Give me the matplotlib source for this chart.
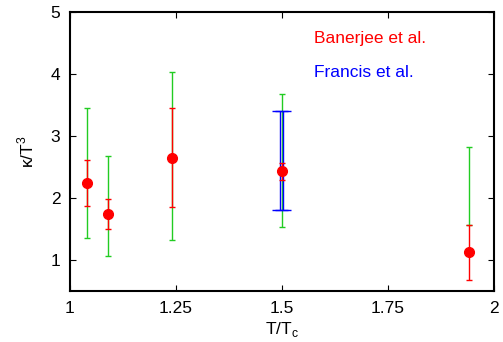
import matplotlib.pyplot as plt

plt.rcParams['font.family'] = ['Liberation Sans', 'DejaVu Sans']

# Banerjee et al. points (red) with statistical errors
ban_x = [1.04, 1.09, 1.24, 1.50, 1.94]
ban_y = [2.25, 1.735, 2.65, 2.43, 1.13]
ban_lo = [1.87, 1.50, 1.85, 2.29, 0.67]
ban_hi = [2.62, 1.98, 3.45, 2.56, 1.57]

# wider (green) error ranges
wide_lo = [1.35, 1.065, 1.32, 1.54, 1.57]
wide_hi = [3.45, 2.67, 4.03, 3.68, 2.82]

# Francis et al. (blue)
fra_x = [1.4955, 1.5035]
fra_lo = [1.80, 1.80]
fra_hi = [3.40, 3.40]

fig = plt.figure(figsize=(5.03, 3.42), dpi=100)
ax = fig.add_axes([70 / 503, 1 - 291 / 342, 424 / 503, 279 / 342])


def bar(ax, x, lo, hi, **kw):
    mid = [(l + h) / 2 for l, h in zip(lo, hi)]
    half = [(h - l) / 2 for l, h in zip(lo, hi)]
    ax.errorbar(x, mid, yerr=half, fmt='none', **kw)


bar(ax, ban_x, wide_lo, wide_hi, ecolor='#22cc22', elinewidth=1, capsize=2.5,
    capthick=1, zorder=2)
bar(ax, fra_x, fra_lo, fra_hi, ecolor='#0000ff', elinewidth=1, capsize=5.5,
    capthick=1, zorder=3)
bar(ax, ban_x, ban_lo, ban_hi, ecolor='#ff0000', elinewidth=1, capsize=2.5,
    capthick=1, zorder=4)
ax.plot(ban_x, ban_y, 'o', color='#ff0000', ms=7, zorder=5)

ax.text(1.575, 4.58, 'Banerjee et al.', color='#ff0000', fontsize=12.5, va='center')
ax.text(1.575, 4.02, 'Francis et al.', color='#0000ff', fontsize=12.5, va='center')

ax.set_xlim(1, 2)
ax.set_ylim(0.5, 5)
ax.set_xticks([1, 1.25, 1.5, 1.75, 2])
ax.set_xticklabels(['1', '1.25', '1.5', '1.75', '2'])
ax.set_yticks([1, 2, 3, 4, 5])
ax.tick_params(direction='in', top=True, right=True, labelsize=12.5, length=4, pad=7)
for s in ax.spines.values():
    s.set_linewidth(1.5)
ax.set_xlabel('T/T$_\\mathregular{c}$', fontsize=12.5, labelpad=3)
ax.set_ylabel('κ/T$^\\mathregular{3}$', fontsize=12.5, labelpad=10)

fig.savefig('out.png', dpi=100)
